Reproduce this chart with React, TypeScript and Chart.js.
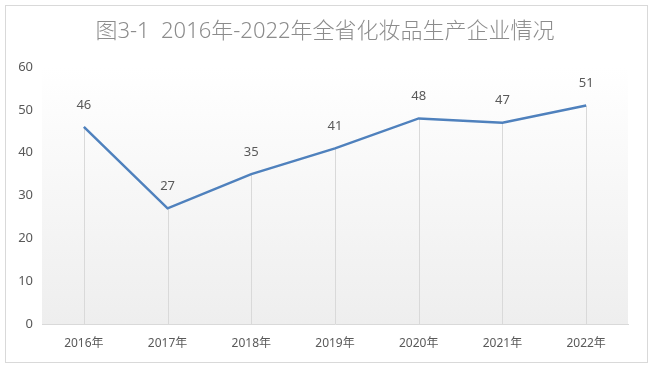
import React, { useEffect, useRef } from "react";
import { Chart, registerables } from "chart.js";

Chart.register(...registerables);

const categories = ["2016年", "2017年", "2018年", "2019年", "2020年", "2021年", "2022年"];
const values = [46, 27, 35, 41, 48, 47, 51];
const titleText = "图3-1  2016年-2022年全省化妆品生产企业情况";

const FONT = "'Noto Sans', 'Noto Sans CJK SC', sans-serif";

const decorPlugin = {
  id: "decor",
  beforeDraw(chart: any) {
    const { ctx, chartArea } = chart;
    ctx.save();
    ctx.fillStyle = "#ffffff";
    ctx.fillRect(0, 0, chart.width, chart.height);
    const g = ctx.createLinearGradient(0, chartArea.top, 0, chartArea.bottom);
    g.addColorStop(0, "#ffffff");
    g.addColorStop(1, "#eeeeee");
    ctx.fillStyle = g;
    ctx.fillRect(chartArea.left, chartArea.top, chartArea.right - chartArea.left, chartArea.bottom - chartArea.top);
    ctx.strokeStyle = "#d9d9d9";
    ctx.lineWidth = 1;
    ctx.strokeRect(5.5, 5.5, 642, 357);
    ctx.fillStyle = "#8c8c8c";
    ctx.font = `300 22px ${FONT}`;
    ctx.textAlign = "center";
    ctx.textBaseline = "middle";
    ctx.fillText(titleText, 325, 32);
    ctx.restore();
  },
  beforeDatasetsDraw(chart: any) {
    const { ctx, chartArea } = chart;
    const meta = chart.getDatasetMeta(0);
    ctx.save();
    ctx.strokeStyle = "#d9d9d9";
    ctx.lineWidth = 1;
    meta.data.forEach((pt: any) => {
      const x = Math.round(pt.x) + 0.5;
      ctx.beginPath();
      ctx.moveTo(x, pt.y);
      ctx.lineTo(x, chartArea.bottom);
      ctx.stroke();
    });
    ctx.restore();
  },
  afterDatasetsDraw(chart: any) {
    const { ctx } = chart;
    const meta = chart.getDatasetMeta(0);
    const ds = chart.data.datasets[0].data;
    ctx.save();
    ctx.fillStyle = "#595959";
    ctx.font = `13px ${FONT}`;
    ctx.textAlign = "center";
    ctx.textBaseline = "middle";
    meta.data.forEach((pt: any, i: number) => {
      ctx.fillText(String(ds[i]), pt.x, pt.y - 22);
    });
    ctx.restore();
  },
};

export default function App() {
  const ref = useRef<HTMLCanvasElement>(null);
  useEffect(() => {
    document.body.style.margin = "0";
    const chart = new Chart(ref.current!, {
      type: "line",
      data: {
        labels: categories,
        datasets: [
          {
            data: values,
            borderColor: "#4f81bd",
            borderWidth: 2.5,
            pointRadius: 0,
            tension: 0,
            fill: false,
          },
        ],
      },
      options: {
        animation: false,
        responsive: false,
        layout: { padding: { top: 67, right: 26, bottom: 0, left: 0 } },
        plugins: { legend: { display: false }, title: { display: false }, tooltip: { enabled: false } },
        scales: {
          x: {
            offset: true,
            grid: { display: false, drawTicks: false },
            border: { display: true, color: "#d9d9d9" },
            ticks: { color: "#595959", font: { size: 12, family: FONT }, padding: 12 },
            afterFit(scale: any) {
              scale.height = 45;
            },
          },
          y: {
            min: 0,
            max: 60,
            ticks: { stepSize: 10, color: "#595959", font: { size: 13, family: FONT }, padding: 9 },
            grid: { display: false, drawTicks: false },
            border: { display: false },
            afterFit(scale: any) {
              scale.width = 42;
            },
          },
        },
      },
      plugins: [decorPlugin],
    });
    return () => chart.destroy();
  }, []);
  return (
    <div style={{ width: 654, height: 369 }}>
      <canvas ref={ref} width={654} height={369} style={{ display: "block" }} />
    </div>
  );
}
